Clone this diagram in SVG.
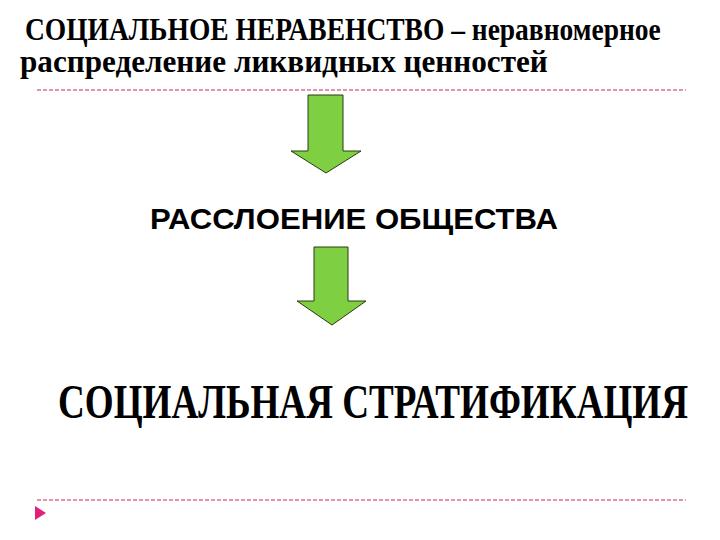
<svg xmlns="http://www.w3.org/2000/svg" width="720" height="540" viewBox="0 0 720 540">
<defs>
<style>
.serif{font-family:"Liberation Serif","DejaVu Serif",serif;font-weight:bold;fill:#000}
.sans{font-family:"Liberation Sans","DejaVu Sans",sans-serif;font-weight:bold;fill:#000}
.dash{stroke:#c8285a;stroke-width:1;stroke-dasharray:4 2;fill:none}
.arrow{fill:#7ed042;stroke:#2a3a10;stroke-width:1}
</style>
</defs>
<rect width="720" height="540" fill="#fff"/>
<g id="title" xml:space="preserve" transform="scale(0.85,1)">
<text class="serif" x="29.4" y="40" font-size="31" textLength="748" lengthAdjust="spacingAndGlyphs">СОЦИАЛЬНОЕ  НЕРАВЕНСТВО – неравномерное</text>
<text class="serif" x="23.5" y="72" font-size="31" textLength="621" lengthAdjust="spacingAndGlyphs">распределение ликвидных  ценностей</text>
</g>
<line class="dash" x1="37" y1="90" x2="686" y2="90"/>
<line class="dash" x1="37" y1="500" x2="686" y2="500"/>
<polygon points="35,506 46,513 35,520" fill="#e0207a"/>
<g id="connectors">
<polygon class="arrow" points="308,95 343,95 343,151 361,151 326,173 291,151 308,151"/>
<polygon class="arrow" points="314,247 348,247 348,301 366,301 332,325 297,301 314,301"/>
</g>
<g id="node-rassloenie">
<text class="sans" x="150" y="229" font-size="30" textLength="408" lengthAdjust="spacingAndGlyphs">РАССЛОЕНИЕ ОБЩЕСТВА</text>
</g>
<g id="node-stratifikatsiya" transform="scale(0.7,1)">
<text class="serif" x="82.9" y="418" font-size="49" textLength="900" lengthAdjust="spacingAndGlyphs">СОЦИАЛЬНАЯ СТРАТИФИКАЦИЯ</text>
</g>
</svg>
